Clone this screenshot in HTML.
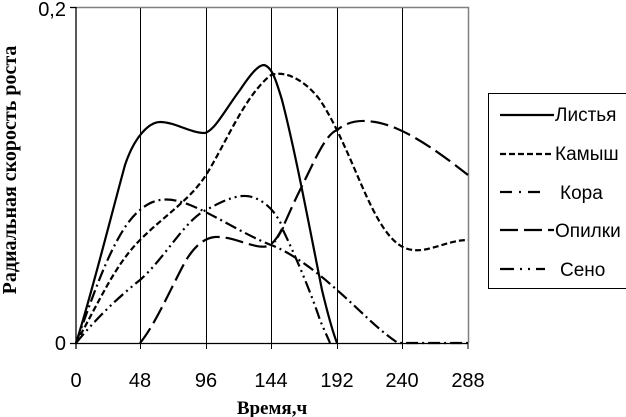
<!DOCTYPE html>
<html><head><meta charset="utf-8"><style>
body{margin:0;background:#fff;width:626px;height:417px;overflow:hidden}
svg{display:block}
text{font-family:"Liberation Sans",Arial,sans-serif}
</style></head><body>
<svg width="626" height="417" viewBox="0 0 626 417">
<rect width="626" height="417" fill="#fff"/>
<g stroke="#000" stroke-width="1">
<line x1="140.5" y1="8" x2="140.5" y2="343"/>
<line x1="206.5" y1="8" x2="206.5" y2="343"/>
<line x1="271.5" y1="8" x2="271.5" y2="343"/>
<line x1="337.5" y1="8" x2="337.5" y2="343"/>
<line x1="402.5" y1="8" x2="402.5" y2="343"/>
</g>
<path d="M76 7.5H468.5V343" fill="none" stroke="#808080" stroke-width="1.5"/>
<g stroke="#000" stroke-width="1.3" fill="none">
<line x1="76" y1="7" x2="76" y2="349"/>
<line x1="70" y1="343.5" x2="468" y2="343.5"/>
<line x1="70" y1="7.5" x2="76" y2="7.5"/>
<g stroke-width="1">
<line x1="140.5" y1="343" x2="140.5" y2="349"/><line x1="206.5" y1="343" x2="206.5" y2="349"/>
<line x1="271.5" y1="343" x2="271.5" y2="349"/><line x1="337.5" y1="343" x2="337.5" y2="349"/>
<line x1="402.5" y1="343" x2="402.5" y2="349"/><line x1="468" y1="343" x2="468" y2="349"/>
</g>
</g>
<g fill="none" stroke="#000" stroke-width="2.2">
<path d="M76 343 C90 300,110 220,125 165 C135 135,150 122,160 122 C175 122,190 133,205 133 C215 130,225 110,240 90 C250 75,258 65,264 65 C272 67,276 80,282 100 C295 150,310 230,322 290 C328 315,332 330,337 343"/>
<path stroke-dasharray="6,3" d="M76 343 C100 300,115 265,140 240 C165 215,190 200,206 175 C225 145,245 95,271 75 C285 70,305 80,320 100 C330 115,340 135,355 170 C370 205,385 240,405 248 C425 256,445 240,468 240"/>
<path stroke-dasharray="12,4,2,4" d="M76 343 C95 290,115 230,140 210 C155 197,170 197,190 205 C215 215,245 235,271 245 C290 252,315 270,337 290 C360 310,378 330,398 343 L468 343"/>
<path stroke-dasharray="18,6" d="M140 343 C155 325,170 290,185 262 C195 245,205 238,215 237 C235 236,255 250,268 246 C280 240,285 220,300 190 C315 160,325 135,337 130 C350 120,362 120,375 122 C400 126,430 145,468 175"/>
<path stroke-dasharray="12,4,2,4,2,4" d="M76 343 C95 320,115 300,140 280 C165 258,185 220,206 210 C225 200,240 192,255 198 C265 202,275 210,283 228 L275 242 M283 230 C295 255,310 290,320 320 C325 332,328 338,330 343"/>
</g>
<g font-size="20" fill="#000">
<text x="66" y="16" text-anchor="end">0,2</text>
<text x="66" y="350" text-anchor="end">0</text>
<text x="76" y="387" text-anchor="middle">0</text>
<text x="140" y="387" text-anchor="middle">48</text>
<text x="206" y="387" text-anchor="middle">96</text>
<text x="271" y="387" text-anchor="middle">144</text>
<text x="337" y="387" text-anchor="middle">192</text>
<text x="402" y="387" text-anchor="middle">240</text>
<text x="468" y="387" text-anchor="middle">288</text>
</g>
<text x="272" y="414" text-anchor="middle" font-size="19" font-weight="bold" style="font-family:'Liberation Serif',serif">Время,ч</text>
<text transform="translate(16,170) rotate(-90)" text-anchor="middle" font-size="20" font-weight="bold" style="font-family:'Liberation Serif',serif">Радиальная скорость роста</text>
<rect x="488.5" y="93.5" width="140" height="195" fill="#fff" stroke="#000" stroke-width="1"/>
<g stroke="#000" stroke-width="2.2" fill="none">
<line x1="500" y1="115" x2="554" y2="115"/>
<line x1="500" y1="154" x2="554" y2="154" stroke-dasharray="6,3"/>
<line x1="500" y1="192" x2="545" y2="192" stroke-dasharray="12,7,2,7"/>
<line x1="500" y1="230" x2="554" y2="230" stroke-dasharray="18,6"/>
<line x1="500" y1="269" x2="545" y2="269" stroke-dasharray="14,6,2,6,2,6"/>
</g>
<g font-size="19" fill="#000">
<text x="555" y="121">Листья</text>
<text x="555" y="160">Камыш</text>
<text x="560" y="199">Кора</text>
<text x="555" y="237">Опилки</text>
<text x="560" y="276">Сено</text>
</g>
</svg>
</body></html>
